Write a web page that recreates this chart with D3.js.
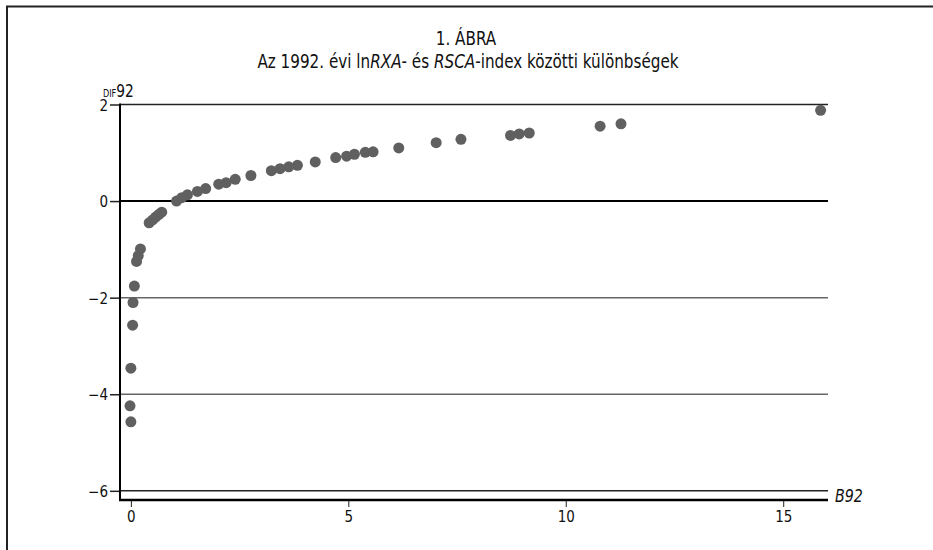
<!DOCTYPE html>
<html>
<head>
<meta charset="utf-8">
<script src="https://cdn.jsdelivr.net/npm/d3@7"></script>
<style>
    html, body { margin: 0; padding: 0; background: #fff; overflow: hidden; }
    svg { display: block; }
    svg text { font-family: "Liberation Sans Narrow", "DejaVu Sans Condensed", sans-serif; fill: #111; }
</style>
</head>
<body>
<div id="chart"></div>
<script>
// B92 values (x) and DIF92 values (y)
const b92 = [0.0, -0.02, 0.0, 0.04, 0.05, 0.08, 0.13, 0.17, 0.22,
    0.42, 0.50, 0.57, 0.64, 0.71,
    1.05, 1.17, 1.30, 1.53, 1.72, 2.02, 2.19, 2.40, 2.76, 3.23, 3.43, 3.63, 3.83,
    4.24, 4.71, 4.96, 5.14, 5.39, 5.57,
    6.16, 7.02, 7.59, 8.73, 8.93, 9.16, 10.79, 11.27, 15.86];
const dif92 = [-4.57, -4.24, -3.46, -2.57, -2.10, -1.76, -1.25, -1.13, -0.99,
    -0.45, -0.39, -0.33, -0.28, -0.23,
    0.0, 0.07, 0.13, 0.20, 0.26, 0.35, 0.38, 0.45, 0.53, 0.63, 0.67, 0.71, 0.74,
    0.81, 0.90, 0.93, 0.97, 1.01, 1.02,
    1.10, 1.21, 1.28, 1.36, 1.39, 1.41, 1.55, 1.60, 1.88];
const xTicks = [0, 5, 10, 15];
const yTicks = [2, 0, -2, -4, -6];

const W = 933, H = 550;
const mLeft = 120, mRight = 828, mTop = 104.5, mBottom = 500;

let svg = d3.select("#chart").append("svg")
    .attr("width", W).attr("height", H);

// frame: top and left edges only
svg.append("line")
    .attr("x1", 6).attr("x2", W)
    .attr("y1", 6.5).attr("y2", 6.5)
    .attr("stroke", "#222").attr("stroke-width", 2);
svg.append("line")
    .attr("x1", 7).attr("x2", 7)
    .attr("y1", 6).attr("y2", H)
    .attr("stroke", "#222").attr("stroke-width", 2);

let x = d3.scaleLinear().domain([-0.25, 16.03]).range([mLeft, mRight]);
let y = d3.scaleLinear().domain([-6.19, 2]).range([mBottom, mTop]);

// titles (squeezed sideways to mimic the condensed face of the original)
svg.append("g")
    .attr("transform", "translate(466,45) scale(0.89,1)")
    .append("text")
    .attr("text-anchor", "middle")
    .style("font-size", "19px")
    .text("1. ÁBRA");

let sub = svg.append("g")
    .attr("transform", "translate(468,68) scale(0.89,1)")
    .append("text")
    .attr("text-anchor", "middle")
    .style("font-size", "19px");
sub.append("tspan").text("Az 1992. évi ln");
sub.append("tspan").style("font-style", "italic").text("RXA");
sub.append("tspan").text("- és ");
sub.append("tspan").style("font-style", "italic").text("RSCA");
sub.append("tspan").text("-index közötti különbségek");

// y axis label
let yl = svg.append("g")
    .attr("transform", "translate(103,97) scale(0.9,1)")
    .append("text");
yl.append("tspan").style("font-size", "10px").text("DIF");
yl.append("tspan").style("font-size", "17px").text("92");

// gridlines
let gridColor = v => v === 0 ? "#000" : (v === 2 || v === -6 ? "#222" : "#666");
svg.append("g").selectAll("line")
    .data(yTicks)
    .enter().append("line")
    .attr("x1", mLeft).attr("x2", mRight)
    .attr("y1", d => y(d)).attr("y2", d => y(d))
    .attr("stroke", d => gridColor(d))
    .attr("stroke-width", d => d === 0 ? 2 : 1.5);

// y axis
let yAxis = d3.axisLeft(y).tickValues(yTicks).tickSize(10)
    .tickFormat(d => d < 0 ? "\u2212" + Math.abs(d) : d);
let gy = svg.append("g").attr("transform", `translate(${mLeft},0)`).call(yAxis);
gy.select(".domain").remove();
gy.selectAll(".tick line").attr("stroke", "#222").attr("stroke-width", 1.5);
gy.selectAll(".tick text").style("font-size", "15px").attr("x", -12).attr("dy", "0.38em").attr("fill", "#111");
svg.append("line")
    .attr("x1", mLeft).attr("x2", mLeft)
    .attr("y1", mTop - 1).attr("y2", mBottom + 1)
    .attr("stroke", "#000").attr("stroke-width", 2);

// x axis
let xAxis = d3.axisBottom(x).tickValues(xTicks).tickSize(7).tickPadding(4);
let gx = svg.append("g").attr("transform", `translate(0,${mBottom})`).call(xAxis);
gx.select(".domain").remove();
gx.selectAll(".tick line").attr("stroke", "#222").attr("stroke-width", 1);
gx.selectAll(".tick text").style("font-size", "15px").attr("fill", "#111");
svg.append("line")
    .attr("x1", mLeft - 1).attr("x2", mRight)
    .attr("y1", mBottom).attr("y2", mBottom)
    .attr("stroke", "#000").attr("stroke-width", 2.5);

svg.append("g")
    .attr("transform", "translate(835,502) scale(0.88,1)")
    .append("text")
    .style("font-size", "18px")
    .style("font-style", "italic")
    .text("B92");

// points
svg.append("g").selectAll("circle")
    .data(b92.map((d, i) => ({b: d, dif: dif92[i]})))
    .enter().append("circle")
    .attr("cx", d => x(d.b))
    .attr("cy", d => y(d.dif))
    .attr("r", 5.5)
    .style("fill", "#606060");
</script>
</body>
</html>
